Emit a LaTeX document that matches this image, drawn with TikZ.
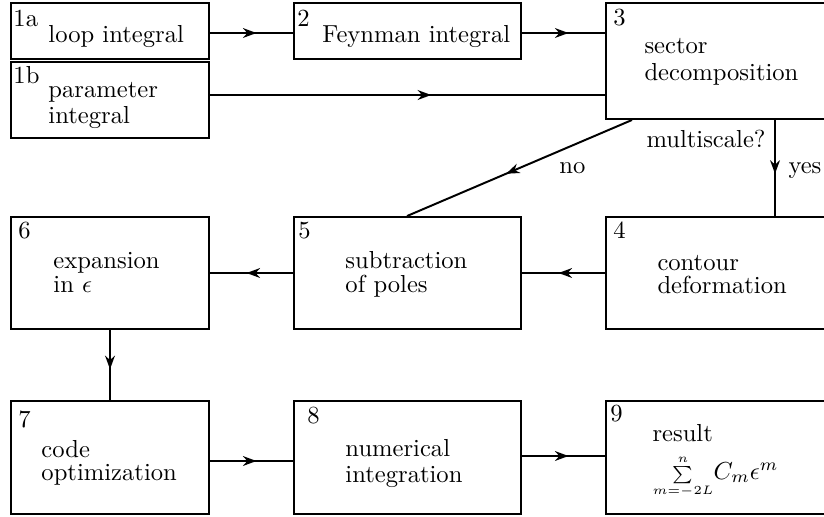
\documentclass[tikz,border=0pt]{standalone}
\usepackage{exscale}
\usetikzlibrary{arrows.meta,decorations.markings,calc}
\begin{document}
\begin{tikzpicture}[x=0.4065pt,y=-0.4065pt,
  box/.style={draw, line width=0.8pt, inner sep=0pt, rectangle},
  txt/.style={anchor=base west, inner sep=0pt},
  flow/.style={line width=0.8pt, postaction={decorate},
    decoration={markings, mark=at position 0.56 with {\arrow{Stealth[length=5.5pt,width=4pt]}}}}]
\useasboundingbox (0,0) rectangle (824,516);
\newcommand\mybox[5]{\node[box, minimum width={(#4-#2)*0.4065pt}, minimum height={(#5-#3)*0.4065pt}] (#1) at ({(#2+#4)/2},{(#3+#5)/2}) {};}
\mybox{b1a}{11}{3}{209}{59}
\mybox{b1b}{11}{62}{209}{138}
\mybox{b2}{294}{3}{521}{59}
\mybox{b3}{606}{3}{834}{119}
\mybox{b4}{606}{217}{834}{329}
\mybox{b5}{294}{217}{521}{329}
\mybox{b6}{11}{217}{209}{329}
\mybox{b7}{11}{401}{209}{514}
\mybox{b8}{294}{401}{521}{514}
\mybox{b9}{606}{401}{834}{514}
% texts
\node[txt] (n1a) at (13,26) {1a};
\node[txt] (t1a) at (48,42) {loop integral};
\node[txt] (n1b) at (13,83) {1b};
\node[txt] (t1b1) at (48,97) {parameter};
\node[txt] (t1b2) at (48,123) {integral};
\node[txt] (n2) at (297,26) {2};
\node[txt] (t2) at (322,42) {Feynman integral};
\node[txt] (n3) at (613,25) {3};
\node[txt] (t31) at (644,53) {sector};
\node[txt] (t32) at (644,80) {decomposition};
\node[txt] (n4) at (613,238) {4};
\node[txt] (t41) at (657,270) {contour};
\node[txt] (t42) at (657,293) {deformation};
\node[txt] (n5) at (298,238) {5};
\node[txt] (t51) at (345,268) {subtraction};
\node[txt] (t52) at (345,292) {of poles};
\node[txt] (n6) at (18,238) {6};
\node[txt] (t61) at (53,268) {expansion};
\node[txt] (t62) at (53,292) {in $\epsilon$};
\node[txt] (n7) at (18,427) {7};
\node[txt] (t71) at (41,457) {code};
\node[txt] (t72) at (41,480) {optimization};
\node[txt] (n8) at (307,423) {8};
\node[txt] (t81) at (345,456) {numerical};
\node[txt] (t82) at (345,482) {integration};
\node[txt] (n9) at (610,421) {9};
\node[txt] (t91) at (652,441) {result};
\node[txt] (t92) at (652,479) {${\scriptstyle\sum\limits_{m=-2L}^{n}}C_m\epsilon^m$};
\node[txt] (lms) at (646,147) {multiscale?};
\node[txt] (lno) at (559,173) {no};
\node[txt] (lyes) at (788,173) {yes};
% connectors
\draw[flow] ($(b1a.east)+(0,2)$) -- ($(b1a.east -| b2.west)+(0,2)$);
\draw[flow] ($(b2.east)+(0,2)$) -- ($(b2.east -| b3.west)+(0,2)$);
\draw[flow] ($(b1b.east)+(0,-5)$) -- ($(b1b.east -| b3.west)+(0,-5)$);
\draw[flow] ($(b3.south west)+(27,0)$) -- ($(b5.north west)+(114,0)$);
\draw[flow] ($(b3.south west)+(170,0)$) -- ($(b4.north west)+(170,0)$);
\draw[flow] (b4.west) -- (b5.east);
\draw[flow] (b5.west) -- (b6.east);
\draw[flow] (b6.south) -- (b7.north);
\draw[flow] ($(b7.east)+(0,3.5)$) -- ($(b7.east -| b8.west)+(0,3.5)$);
\draw[flow] ($(b8.east)+(0,-1.5)$) -- ($(b8.east -| b9.west)+(0,-1.5)$);
\end{tikzpicture}
\end{document}
